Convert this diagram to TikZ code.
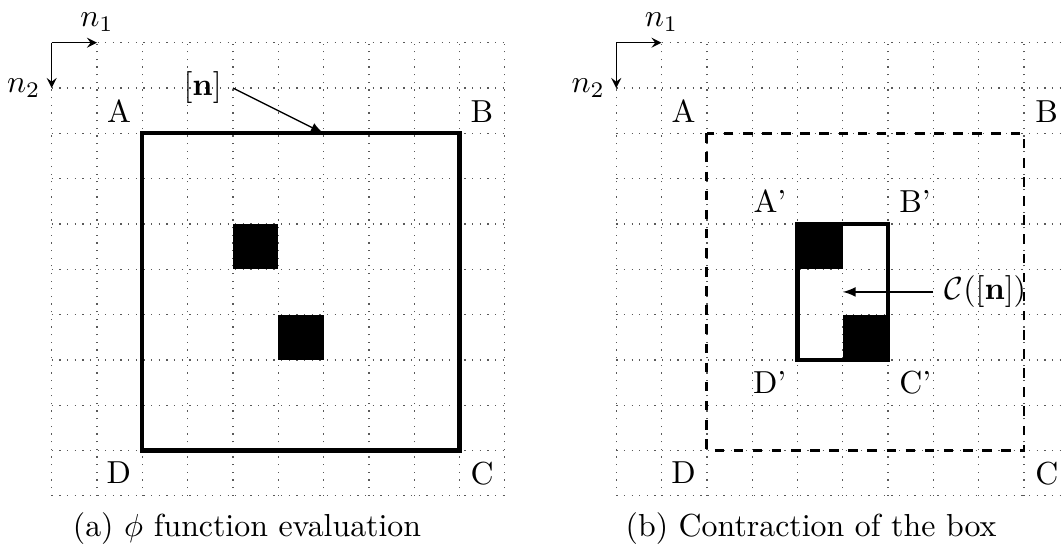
\documentclass[tikz,border=0pt]{standalone}
\usetikzlibrary{arrows}
\begin{document}
\begin{tikzpicture}[x=0.5cm,y=-0.5cm,
  gridline/.style={dotted,black!65},
  thickbox/.style={draw,line width=1.3pt},
  dashbox/.style={draw,dashed,line width=0.9pt},
  cellfill/.style={fill=black},
  axisarrow/.style={-stealth,thin},
  ptrarrow/.style={-latex,thin},
  corner/.style={inner sep=0.333em}]
\useasboundingbox (-1.141,-0.943) rectangle (22.32,11.13);
\clip (-1.141,-0.943) rectangle (22.32,11.13);
% ---------- panel (a) ----------
\begin{scope}
  \draw[gridline,step=0.5cm] (0,0) grid (10,10);
  \coordinate (ao) at (0,0);
  \coordinate (ax) at (1,0);
  \coordinate (ay) at (0,1);
  \draw[axisarrow] (ao) -- (ax);
  \draw[axisarrow] (ao) -- (ay);
  \node[above] (an1) at (ax) {$n_1$};
  \node[left] (an2) at (ay) {$n_2$};
  \fill[cellfill] (4,4) rectangle (5,5);
  \fill[cellfill] (5,6) rectangle (6,7);
  \draw[thickbox] (2,2) rectangle (9,9);
  \node[corner,above left] (aA) at (2,2) {A};
  \node[corner,above right] (aB) at (9,2) {B};
  \node[corner,below right] (aC) at (9,9) {C};
  \node[corner,below left] (aD) at (2,9) {D};
  \coordinate (aps) at (4,1);
  \coordinate (ape) at (6,2);
  \node[anchor=east] (an) at (aps) {$[\mathbf{n}]$};
  \draw[ptrarrow] (aps) -- (ape);
  \node (acap) at (4.31,10.73) {(a) $\phi$ function evaluation};
\end{scope}
% ---------- panel (b) ----------
\begin{scope}[shift={(12.46,0)}]
  \draw[gridline,step=0.5cm] (0,0) grid (10,10);
  \coordinate (bo) at (0,0);
  \coordinate (bx) at (1,0);
  \coordinate (by) at (0,1);
  \draw[axisarrow] (bo) -- (bx);
  \draw[axisarrow] (bo) -- (by);
  \node[above] (bn1) at (bx) {$n_1$};
  \node[left] (bn2) at (by) {$n_2$};
  \draw[dashbox] (2,2) rectangle (9,9);
  \node[corner,above left] (bA) at (2,2) {A};
  \node[corner,above right] (bB) at (9,2) {B};
  \node[corner,below right] (bC) at (9,9) {C};
  \node[corner,below left] (bD) at (2,9) {D};
  \fill[cellfill] (4,4) rectangle (5,5);
  \fill[cellfill] (5,6) rectangle (6,7);
  \draw[thickbox] (4,4) rectangle (6,7);
  \node[corner,above left] (bA2) at (4,4) {A'};
  \node[corner,above right] (bB2) at (6,4) {B'};
  \node[corner,below right] (bC2) at (6,7) {C'};
  \node[corner,below left] (bD2) at (4,7) {D'};
  \coordinate (bps) at (7,5.5);
  \coordinate (bpe) at (5,5.5);
  \node[anchor=west] (bc) at (bps) {$\mathcal{C}([\mathbf{n}])$};
  \draw[ptrarrow] (bps) -- (bpe);
  \node (bcap) at (4.30,10.73) {(b) Contraction of the box};
\end{scope}
\end{tikzpicture}
\end{document}
